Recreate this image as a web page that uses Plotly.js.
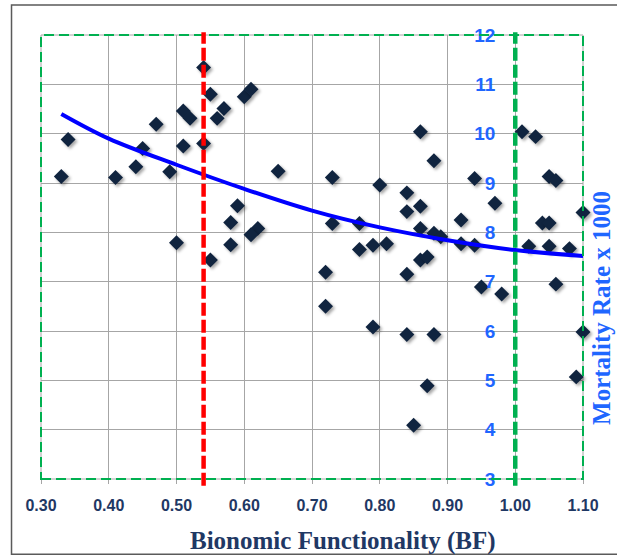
<!DOCTYPE html>
<html>
<head>
<meta charset="utf-8">
<script src="https://cdn.plot.ly/plotly-3.0.1.min.js"></script>
<style>
  html, body { margin: 0; padding: 0; background: #ffffff; }
  #chart { width: 617px; height: 555px; }
  .scatterlayer .trace:first-child .points path { filter: drop-shadow(2px 2px 1.5px rgba(0,0,0,0.35)); }
</style>
</head>
<body>
<div id="chart"></div>
<script>
// Data
const bfValues = [0.33, 0.34, 0.41, 0.44, 0.45, 0.47, 0.49, 0.50, 0.51, 0.52,
                  0.51, 0.54, 0.54, 0.55, 0.57, 0.56, 0.60, 0.61, 0.59, 0.58,
                  0.62, 0.61, 0.58, 0.55, 0.65, 0.73, 0.73, 0.77, 0.77, 0.79,
                  0.81, 0.80, 0.72, 0.72, 0.86, 0.88, 0.84, 0.86, 0.84, 0.86,
                  0.88, 0.89, 0.92, 0.92, 0.86, 0.87, 0.84, 1.01, 1.03, 1.05,
                  1.06, 0.94, 0.97, 1.04, 1.05, 1.10, 0.94, 1.02, 1.05, 1.08,
                  0.95, 0.98, 1.06, 0.79, 0.84, 0.88, 0.87, 0.85, 1.10, 1.09];
const mortalityValues = [9.13, 9.88, 9.11, 9.33, 9.70, 10.19, 9.23, 7.79, 10.46, 10.31,
                  9.75, 11.34, 9.80, 10.80, 10.51, 10.31, 10.75, 10.90, 8.54, 8.20,
                  8.08, 7.95, 7.75, 7.44, 9.24, 9.11, 8.18, 8.18, 7.65, 7.74,
                  7.77, 8.96, 7.19, 6.50, 10.04, 9.45, 8.80, 8.53, 8.42, 8.08,
                  7.98, 7.91, 8.25, 7.77, 7.44, 7.50, 7.15, 10.04, 9.94, 9.13,
                  9.05, 9.09, 8.59, 8.19, 8.19, 8.40, 7.74, 7.72, 7.72, 7.67,
                  6.89, 6.75, 6.95, 6.08, 5.93, 5.93, 4.89, 4.09, 5.98, 5.07];

// Trend line
const trendBF = [0.33, 0.40, 0.50, 0.60, 0.70, 0.80, 0.90, 1.00, 1.10];
const trendMortality = [10.40, 9.90, 9.37, 8.88, 8.44, 8.10, 7.84, 7.64, 7.52];

// Axes
const xTickVals = [0.3, 0.4, 0.5, 0.6, 0.7, 0.8, 0.9, 1.0, 1.1];
const xTickLabels = ["0.30", "0.40", "0.50", "0.60", "0.70", "0.80", "0.90", "1.00", "1.10"];
const yTickVals = [3, 4, 5, 6, 7, 8, 9, 10, 11, 12];
const yTickLabels = ["3", "4", "5", "6", "7", "8", "9", "10", "11", "12"];
const xRange = [0.3, 1.1];
const yRange = [3, 12];

// Reference lines
const redThresholdBF = 0.54;
const greenThresholdBF = 1.00;

const xTitleText = "Bionomic Functionality (BF)";
const yTitleText = "Mortality Rate x 1000";

const traces = [
  {
    x: bfValues, y: mortalityValues, type: 'scatter', mode: 'markers',
    marker: { symbol: 'diamond', size: 11.5, color: '#10243F' },
    cliponaxis: false,
    hoverinfo: 'x+y', showlegend: false
  },
  {
    x: trendBF, y: trendMortality, type: 'scatter', mode: 'lines',
    line: { color: '#0000FF', width: 4, shape: 'spline', smoothing: 1.0 },
    hoverinfo: 'skip', showlegend: false
  }
];

const yAxisPos = (greenThresholdBF - xRange[0]) / (xRange[1] - xRange[0]);

const layout = {
  width: 617, height: 555,
  margin: { l: 41, r: 34, t: 35, b: 76 },
  paper_bgcolor: '#ffffff', plot_bgcolor: '#ffffff',
  showlegend: false,
  xaxis: {
    range: xRange, tickvals: xTickVals, ticktext: xTickLabels,
    showgrid: true, gridcolor: '#A6A6A6', gridwidth: 1,
    zeroline: false, showline: false,
    ticks: 'outside', ticklen: 4, tickcolor: '#A6A6A6', tickwidth: 1,
    ticklabelstandoff: 8,
    tickfont: { family: 'Liberation Sans, Arial, sans-serif', size: 16, color: '#1F3864', weight: 'bold' }
  },
  yaxis: {
    range: yRange, tickvals: yTickVals, ticktext: yTickLabels,
    anchor: 'free', position: yAxisPos, side: 'left',
    showgrid: true, gridcolor: '#A6A6A6', gridwidth: 1,
    zeroline: false, showline: false,
    ticks: 'outside', ticklen: 4, tickcolor: '#A6A6A6', tickwidth: 1,
    ticklabelstandoff: 12,
    tickfont: { family: 'Liberation Sans, Arial, sans-serif', size: 19, color: '#1F66FF', weight: 'bold' }
  },
  shapes: [
    // outer frame
    { type: 'rect', xref: 'paper', yref: 'paper', x0: -0.0544, x1: 1.2, y0: -0.1697, y1: 1.0676,
      line: { color: '#5A5A5A', width: 1.5 }, fillcolor: 'rgba(0,0,0,0)', layer: 'below' },
    // gray plot border
    { type: 'rect', xref: 'paper', yref: 'paper', x0: 0, x1: 1, y0: 0, y1: 1,
      line: { color: '#A6A6A6', width: 1 }, layer: 'below' },
    // green dashed border
    { type: 'rect', xref: 'paper', yref: 'paper', x0: 0, x1: 1, y0: 0, y1: 1,
      line: { color: '#00B050', width: 2, dash: '10px,5px' }, layer: 'above' },
    // red threshold
    { type: 'line', xref: 'x', yref: 'paper', x0: redThresholdBF, x1: redThresholdBF, y0: -0.015, y1: 1.006,
      line: { color: '#FF0000', width: 4.5, dash: '13px,4px' }, layer: 'above' },
    // green threshold
    { type: 'line', xref: 'x', yref: 'paper', x0: greenThresholdBF, x1: greenThresholdBF, y0: -0.015, y1: 1.006,
      line: { color: '#00B050', width: 4.5, dash: '13px,4px' }, layer: 'above' }
  ],
  annotations: [
    { text: xTitleText, xref: 'paper', yref: 'paper', x: 0.5576, y: -0.1404,
      xanchor: 'center', yanchor: 'middle', showarrow: false,
      font: { family: 'Liberation Serif, Times New Roman, serif', size: 25, color: '#1F3864', weight: 'bold' } },
    { text: yTitleText, xref: 'paper', yref: 'paper', x: 1.033, y: 0.385,
      xanchor: 'center', yanchor: 'middle', showarrow: false, textangle: -90,
      font: { family: 'Liberation Serif, Times New Roman, serif', size: 25, color: '#1F66FF', weight: 'bold' } }
  ]
};

Plotly.newPlot('chart', traces, layout, { displayModeBar: false, staticPlot: true });
</script>
</body>
</html>
